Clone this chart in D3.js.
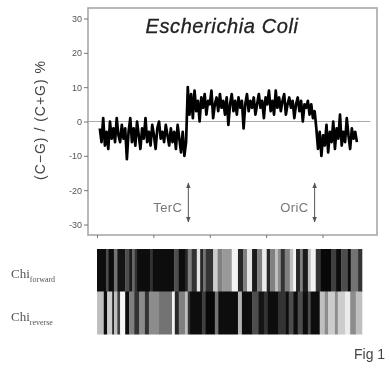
<!DOCTYPE html>
<html>
<head>
<meta charset="utf-8">
<script src="https://d3js.org/d3.v7.min.js"></script>
<style>
  * { margin: 0; padding: 0; }
  body { background: #fff; width: 391px; height: 385px; overflow: hidden; }
  svg { display: block; filter: blur(0.45px); }
</style>
</head>
<body>
<div id="chart"></div>
<script>
  // GC skew along the genome (Mb), sampled from the figure
  const skewStart = 0.05;
  const skewStep = 0.03;
  const skewValues = [
    -2, -6, 1, -7, -3, -8, 0, -5, -2, -6,
    1, -4, -6, -1, -5, -2, -11, -3, 1, -6,
    -2, -7, 0, -4, -8, -2, -5, 1, -6, -3,
    -7, -1, -4, -8, -2, 0, -5, -3, -6, -1,
    -4, -7, -2, -6, -3, -8, -1, -5, -9, -3,
    -10, -6,
    10, 2, 8, 1, 9, 3, 6, 0, 7, 4,
    8, 2, 6, 5, 9, 1, 5, 7, 3, 8,
    4, 6, 2, 7, -1, 5, 8, 3, 6, 2,
    7, 4, 6, -2, 5, 8, 3, 6, 4, 7,
    2, 5, 8, 4, 6, 1, 7, 5, 9, 3,
    6, 2, 9, 4, 7, 3, 6, 8, 2, 5,
    7, 4, 6, 1, 5, 7, 3, 6, 0, 5,
    4, 6, 2, 5, 1, 3,
    -2, -8, -3, -10, -4, -7, -1, -9, -3, -6,
    0, -8, -2, -5, 2, -7, -3, -6, 1, -4,
    -8, -2, -5, -3, -6
  ];
  const yTicks = [-30, -20, -10, 0, 10, 20, 30];
  const xTicks = [0, 1, 2, 3, 4];
  const markers = [
    { name: "TerC", pos: 1.62 },
    { name: "OriC", pos: 3.86 }
  ];

  // Chi site density bands: edges (Mb) and shade (0 = black, 1 = white)
  const chiForwardEdges = [0, 0.16, 0.2, 0.3, 0.36, 0.5, 0.57, 0.62, 0.67, 0.71, 0.94, 0.98, 1.37, 1.45,
    1.56, 1.61, 1.68, 1.77, 1.83, 1.88, 1.93, 2.06, 2.14, 2.22, 2.39, 2.5, 2.59, 2.66, 2.75, 2.84, 2.93,
    3.01, 3.07, 3.16, 3.21, 3.26, 3.33, 3.42, 3.48, 3.53, 3.6, 3.65, 3.74, 3.79, 3.88, 3.97, 4.15, 4.24,
    4.33, 4.45, 4.5, 4.63, 4.7];
  const chiForwardShade = [0.05, 0.3, 0.05, 0.45, 0.08, 0.3, 0.1, 0.4, 0.2, 0.05, 0.2, 0.05, 0.3, 0.05,
    0.15, 0.5, 0.2, 0.9, 0.15, 0.45, 0.2, 0.8, 0.5, 0.6, 0.95, 0.15, 0.5, 0.9, 0.1, 0.5, 0.92,
    0.15, 0.5, 0.75, 0.55, 0.2, 0.5, 0.75, 0.95, 0.15, 0.5, 0.1, 0.75, 0.95, 0.2, 0.03, 0.25, 0.05,
    0.3, 0.05, 0.45, 0.2];
  const chiReverseEdges = [0, 0.12, 0.18, 0.27, 0.3, 0.36, 0.41, 0.5, 0.57, 0.66, 0.75, 0.85, 0.92, 1.1,
    1.33, 1.38, 1.45, 1.56, 1.61, 1.65, 1.86, 1.92, 2.09, 2.15, 2.5, 2.57, 2.75, 2.86, 2.96, 3.03, 3.21,
    3.35, 3.4, 3.48, 3.56, 3.65, 3.74, 3.79, 3.95, 4.04, 4.1, 4.22, 4.27, 4.4, 4.49, 4.59, 4.7];
  const chiReverseShade = [0.75, 0.05, 0.8, 0.1, 0.75, 0.25, 0.97, 0.05, 0.5, 0.2, 0.55, 0.2, 0.55,
    0.45, 0.95, 0.15, 0.5, 0.75, 0.2, 0.05, 0.25, 0.03, 0.45, 0.05, 0.7, 0.05, 0.3, 0.08, 0.2, 0.05,
    0.2, 0.05, 0.3, 0.05, 0.3, 0.05, 0.3, 0.05, 0.75, 0.55, 0.8, 0.55, 0.8, 0.92, 0.55, 0.75];

  const W = 391, H = 385;
  const frame = { left: 88, top: 8, right: 377, bottom: 235 };

  const svg = d3.select("#chart").append("svg")
    .attr("width", W).attr("height", H);
  svg.append("rect").attr("width", W).attr("height", H).attr("fill", "#fff");

  const x = d3.scaleLinear().domain([0, 4.7]).range([97, 362]);
  const y = d3.scaleLinear().domain([-30, 30]).range([224.5, 18.5]);

  // frame
  svg.append("rect")
    .attr("x", frame.left).attr("y", frame.top)
    .attr("width", frame.right - frame.left).attr("height", frame.bottom - frame.top)
    .attr("fill", "none").attr("stroke", "#a8a8a8").attr("stroke-width", 1.6);

  // axes
  const yAxis = svg.append("g")
    .attr("transform", `translate(${frame.left},0)`)
    .call(d3.axisLeft(y).tickValues(yTicks).tickSize(4).tickPadding(2).tickFormat(d => String(d)));
  yAxis.select(".domain").remove();
  yAxis.selectAll("line").attr("stroke", "#777");
  yAxis.selectAll("text").attr("font-family", "Liberation Sans, Arial, sans-serif")
    .attr("font-size", 9).attr("fill", "#555");

  const xAxis = svg.append("g")
    .attr("transform", `translate(0,${frame.bottom})`)
    .call(d3.axisBottom(x).tickValues(xTicks).tickSize(3).tickFormat(""));
  xAxis.select(".domain").remove();
  xAxis.selectAll("line").attr("stroke", "#777");

  // zero reference line
  svg.append("line")
    .attr("x1", frame.left).attr("x2", x(4.85))
    .attr("y1", y(0)).attr("y2", y(0))
    .attr("stroke", "#aaa").attr("stroke-width", 1);

  // skew curve
  const line = d3.line()
    .x((d, i) => x(skewStart + i * skewStep))
    .y(d => y(d));
  svg.append("path")
    .datum(skewValues)
    .attr("d", line)
    .attr("fill", "none")
    .attr("stroke", "#000")
    .attr("stroke-width", 2.7)
    .attr("stroke-linejoin", "round");

  // title
  svg.append("text")
    .attr("x", 222).attr("y", 33)
    .attr("text-anchor", "middle")
    .attr("font-family", "Liberation Sans, Arial, sans-serif")
    .attr("font-style", "italic")
    .attr("font-size", 20)
    .attr("letter-spacing", 0.6)
    .attr("stroke", "#222").attr("stroke-width", 0.3)
    .attr("fill", "#222")
    .text("Escherichia Coli");

  // y label
  svg.append("text")
    .attr("transform", "translate(45,120) rotate(-90)")
    .attr("text-anchor", "middle")
    .attr("font-family", "Liberation Sans, Arial, sans-serif")
    .attr("font-size", 14)
    .attr("letter-spacing", 1)
    .attr("fill", "#444")
    .text("(C\u2212G) / (C+G) %");

  // TerC / OriC arrows
  svg.append("defs").append("marker")
    .attr("id", "head").attr("viewBox", "0 0 10 10")
    .attr("refX", 9).attr("refY", 5)
    .attr("markerWidth", 6).attr("markerHeight", 6)
    .attr("orient", "auto-start-reverse")
    .append("path").attr("d", "M0,1L10,5L0,9Z").attr("fill", "#555");

  const mk = svg.append("g").selectAll("g").data(markers).join("g");
  mk.append("line")
    .attr("x1", d => x(d.pos)).attr("x2", d => x(d.pos))
    .attr("y1", 183).attr("y2", 222)
    .attr("stroke", "#555").attr("stroke-width", 1)
    .attr("marker-start", "url(#head)").attr("marker-end", "url(#head)");
  mk.append("text")
    .attr("x", d => x(d.pos) - 6).attr("y", 212)
    .attr("text-anchor", "end")
    .attr("font-family", "Liberation Sans, Arial, sans-serif")
    .attr("font-size", 13)
    .attr("letter-spacing", 0.4)
    .attr("fill", "#777")
    .text(d => d.name);

  // Chi bands
  const shade = d3.scaleLinear().domain([0, 1]).range(["#000", "#fff"]);
  const rows = [
    { edges: chiForwardEdges, shade: chiForwardShade, top: 249, sub: "forward" },
    { edges: chiReverseEdges, shade: chiReverseShade, top: 291.5, sub: "reverse" }
  ];
  const rowH = 43;
  rows.forEach(r => {
    const segs = r.shade.map((v, i) => ({ a: r.edges[i], b: r.edges[i + 1], v }));
    svg.append("g").selectAll("rect").data(segs).join("rect")
      .attr("x", d => x(d.a))
      .attr("width", d => x(d.b) - x(d.a) + 0.3)
      .attr("y", r.top).attr("height", rowH)
      .attr("fill", d => shade(d.v));
    const t = svg.append("text")
      .attr("x", 11).attr("y", r.top + 29)
      .attr("font-family", "Liberation Serif, Times New Roman, serif")
      .attr("font-size", 13).attr("fill", "#555");
    t.append("tspan").text("Chi");
    t.append("tspan").attr("dy", 4).attr("font-size", 8).text(r.sub);
  });

  // figure label
  svg.append("text")
    .attr("x", 354).attr("y", 359)
    .attr("font-family", "Liberation Sans, Arial, sans-serif")
    .attr("font-size", 14).attr("fill", "#444")
    .text("Fig 1");
</script>
</body>
</html>
